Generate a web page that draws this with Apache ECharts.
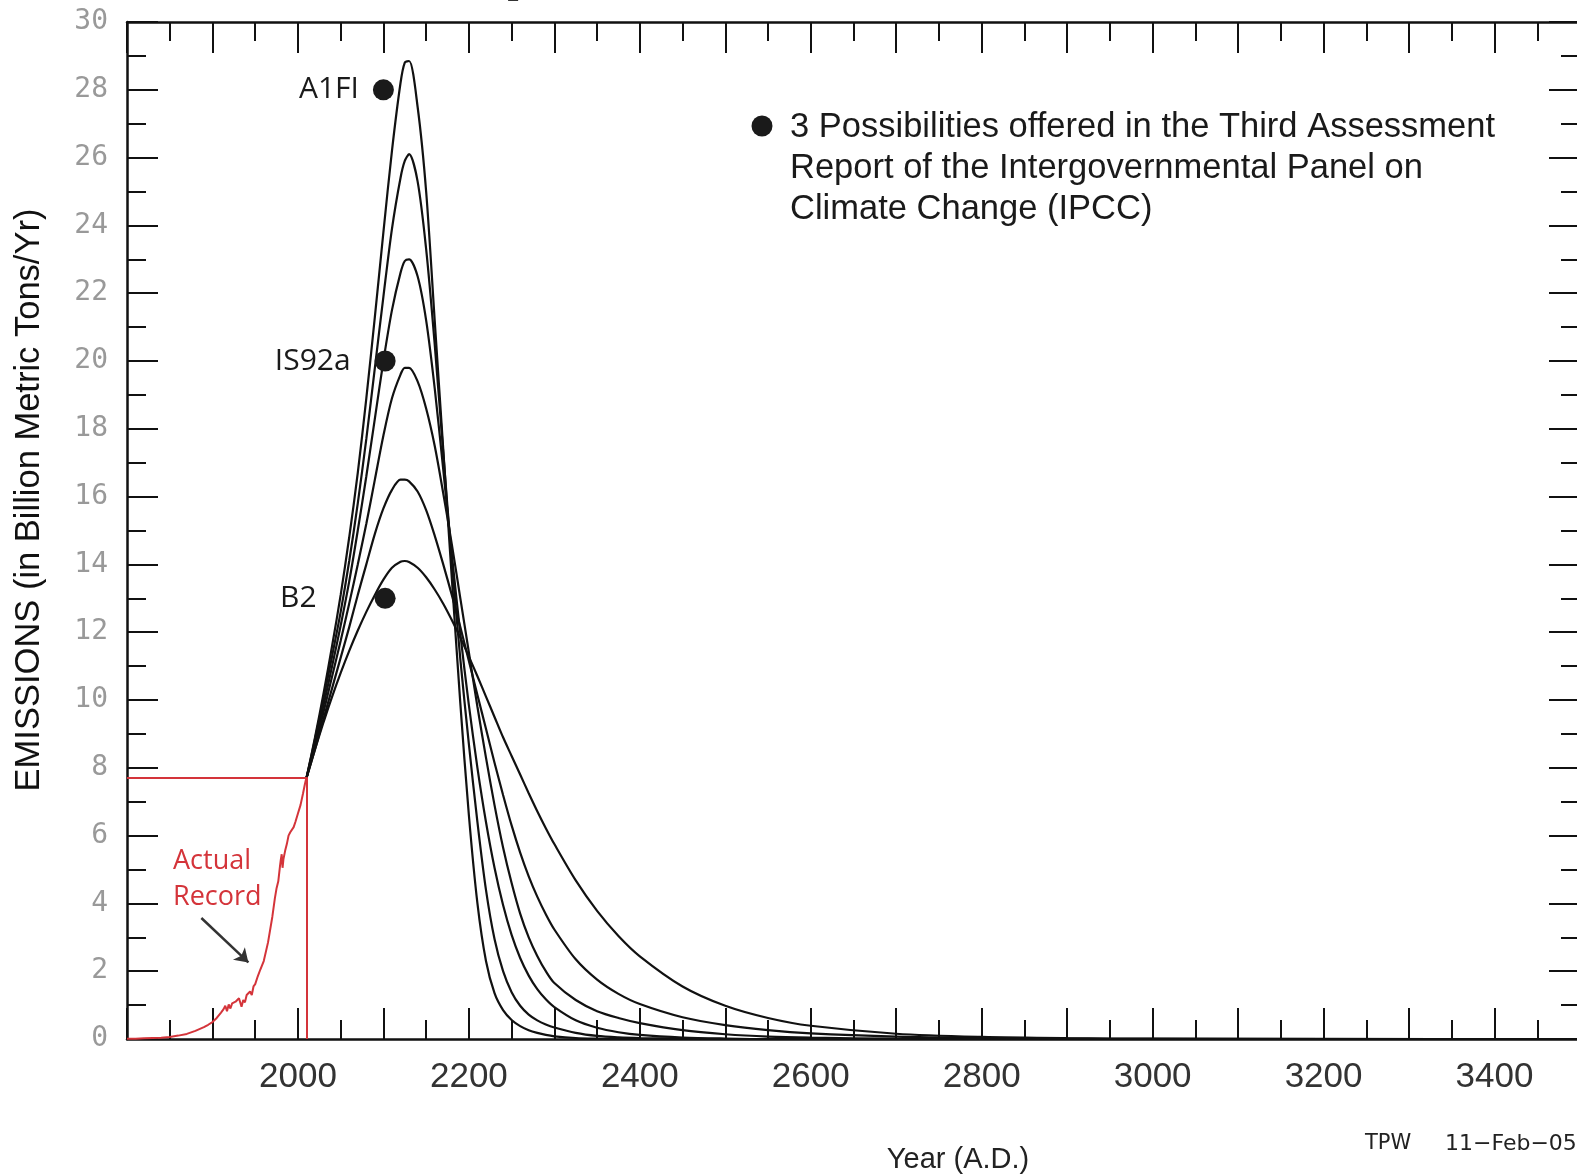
<!DOCTYPE html>
<html>
<head>
<meta charset="utf-8">
<style>
  html, body { margin: 0; padding: 0; background: #ffffff; }
  #chart { width: 1577px; height: 1176px; }
</style>
<script src="https://cdn.jsdelivr.net/npm/echarts@6/dist/echarts.min.js"></script>
</head>
<body>
<div id="chart"></div>
<script>
// ---------- DATA ----------
const scenarioYears = [2010,2020,2030,2040,2050,2060,2070,2080,2090,2100,2110,2120,2125,2130,2140,2150,2160,2170,2180,2190,2200,2210,2220,2230,2240,2250,2260,2270,2280,2290,2300,2325,2350,2375,2400,2450,2500,2550,2600,2700,2800,2900,3000,3200,3500];

const curve1 = [7.7,8.9,10.2,11.6,13.1,14.8,16.7,18.9,21.3,23.8,26.2,28.2,28.8,28.85,27.5,25.0,21.2,17.4,13.6,9.9,6.6,4.0,2.3,1.35,0.85,0.56,0.38,0.26,0.18,0.12,0.08,0.03,0.01,0,0,0,0,0,0,0,0,0,0,0,0];
const curve2 = [7.7,8.85,10.05,11.3,12.6,14.1,15.8,17.7,19.8,21.9,23.9,25.4,25.9,26.1,25.3,23.3,20.5,17.3,14.1,11.2,8.7,6.4,4.4,2.95,2.0,1.38,0.98,0.72,0.55,0.43,0.34,0.18,0.09,0.05,0.03,0.01,0,0,0,0,0,0,0,0,0];
const curve3 = [7.7,8.75,9.85,11.0,12.2,13.5,15.0,16.6,18.3,20.0,21.5,22.6,22.95,23.0,22.5,21.2,19.2,16.8,14.3,11.95,9.85,8.0,6.4,5.05,3.95,3.07,2.39,1.87,1.47,1.17,0.94,0.55,0.33,0.2,0.12,0.045,0.015,0,0,0,0,0,0,0,0];
const curve4 = [7.7,8.65,9.65,10.7,11.75,12.85,14.0,15.2,16.5,17.8,18.9,19.6,19.8,19.8,19.4,18.6,17.5,16.1,14.6,13.0,11.4,9.8,8.3,6.9,5.65,4.6,3.7,3.0,2.45,2.0,1.65,1.15,0.82,0.62,0.47,0.26,0.14,0.07,0.04,0.01,0,0,0,0,0];
const curve5 = [7.7,8.55,9.45,10.35,11.25,12.15,13.1,14.0,14.9,15.65,16.2,16.5,16.5,16.45,16.15,15.6,14.85,14.0,13.1,12.15,11.15,10.15,9.15,8.15,7.2,6.3,5.5,4.8,4.2,3.68,3.23,2.35,1.75,1.33,1.03,0.64,0.41,0.26,0.165,0.07,0.03,0.012,0.005,0,0];
const curve6 = [7.7,8.55,9.35,10.1,10.8,11.45,12.05,12.6,13.1,13.55,13.9,14.08,14.1,14.07,13.9,13.62,13.26,12.84,12.36,11.84,11.28,10.7,10.1,9.5,8.9,8.35,7.8,7.25,6.72,6.22,5.75,4.68,3.78,3.04,2.44,1.55,0.98,0.62,0.39,0.155,0.062,0.025,0.01,0.002,0];

const recordYears  = [1800,1810,1820,1830,1840,1850,1860,1870,1880,1890,1895,1900,1905,1910,1913,1915,1917,1919,1921,1923,1925,1927,1929,1931,1934,1936,1938,1940,1942,1944,1946,1948,1950,1953,1956,1960,1965,1970,1973,1975,1977,1979,1980,1981,1982,1983,1985,1987,1989,1991,1993,1995,1997,2000,2003,2006,2008,2010];
const recordValues = [0.01,0.01,0.02,0.03,0.04,0.06,0.10,0.15,0.24,0.35,0.42,0.50,0.62,0.78,0.88,0.98,0.82,1.02,0.90,1.05,1.00,1.10,1.05,1.20,0.95,1.15,1.08,1.30,1.25,1.40,1.30,1.55,1.62,1.85,2.05,2.30,2.85,3.60,4.15,4.45,4.65,5.10,5.30,5.45,5.05,5.30,5.55,5.75,6.00,6.10,6.15,6.25,6.40,6.65,6.90,7.25,7.50,7.72];

const recordEndYear = 2010;
const recordEndValue = 7.72;

const ipccNames  = ['A1FI', 'IS92a', 'B2'];
const ipccYears  = [2100, 2102, 2102];
const ipccValues = [28, 20, 13];

const arrowFrom = [1887, 3.57];
const arrowTo   = [1942, 2.26];

const xTickLabels = [2000, 2200, 2400, 2600, 2800, 3000, 3200, 3400];

// ---------- BUILD ----------
function pairs(xs, ys) { return xs.map((x, i) => [x, ys[i]]); }

const curves = [curve1, curve2, curve3, curve4, curve5, curve6];
const ipccLabelGap = [14, 24, 58];

const axisColor = '#111';
const tickStyle = { color: axisColor, width: 2 };

function xAxisCfg(pos, showLabel) {
  return {
    type: 'value', position: pos, min: 1800, max: 3500, interval: 100,
    axisLine: { show: true, onZero: false, lineStyle: { color: axisColor, width: 2.5 } },
    axisTick: { show: true, inside: true, length: 31, lineStyle: tickStyle },
    minorTick: { show: true, splitNumber: 2, length: 19, lineStyle: tickStyle },
    splitLine: { show: false }, minorSplitLine: { show: false },
    axisLabel: {
      show: showLabel, margin: 21, fontSize: 35, color: '#333', fontFamily: 'Liberation Sans',
      formatter: v => xTickLabels.indexOf(v) >= 0 ? String(v) : ''
    }
  };
}
function yAxisCfg(pos, showLabel) {
  return {
    type: 'value', position: pos, min: 0, max: 30, interval: 2,
    axisLine: { show: true, onZero: false, lineStyle: { color: axisColor, width: 2.5 } },
    axisTick: { show: true, inside: true, length: 31, lineStyle: tickStyle },
    minorTick: { show: true, splitNumber: 2, length: 19, lineStyle: tickStyle },
    splitLine: { show: false }, minorSplitLine: { show: false },
    axisLabel: { show: showLabel, margin: 19, fontSize: 28, color: '#999999', fontFamily: 'DejaVu Sans Mono' }
  };
}

const series = curves.map((c, i) => ({
  type: 'line', name: 'scenario' + (i + 1), xAxisIndex: 0, yAxisIndex: 0,
  data: pairs(scenarioYears, c), smooth: 0.3, showSymbol: false, silent: true,
  lineStyle: { color: '#111', width: 2.2 }, z: 3
}));

series.push({
  type: 'line', name: 'Actual Record', data: pairs(recordYears, recordValues),
  showSymbol: false, silent: true, smooth: false,
  lineStyle: { color: '#d4343a', width: 2 }, z: 4,
  markLine: {
    silent: true, symbol: 'none', label: { show: false },
    lineStyle: { color: '#d4343a', width: 2, type: 'solid' },
    data: [
      [{ coord: [1800, recordEndValue] }, { coord: [recordEndYear, recordEndValue] }],
      [{ coord: [recordEndYear, 0] }, { coord: [recordEndYear, recordEndValue] }]
    ]
  }
});

series.push({
  type: 'scatter', name: 'IPCC', symbol: 'circle', symbolSize: 21, z: 6,
  itemStyle: { color: '#1a1a1a', opacity: 1 },
  data: ipccNames.map((n, i) => ({
    name: n, value: [ipccYears[i], ipccValues[i]],
    label: { show: true, position: 'left', distance: ipccLabelGap[i], formatter: '{b}',
             fontFamily: 'Open Sans', fontSize: 30, color: '#1a1a1a' }
  }))
});

series.push({
  type: 'lines', coordinateSystem: 'cartesian2d', silent: true, z: 5,
  symbol: ['none', 'arrow'], symbolSize: 13,
  lineStyle: { color: '#333', width: 2.5, opacity: 1 },
  data: [{ coords: [arrowFrom, arrowTo] }]
});

const option = {
  animation: false,
  backgroundColor: '#ffffff',
  grid: { left: 127, top: 22, right: -3, bottom: 137, containLabel: false, outerBoundsMode: 'none' },
  xAxis: [xAxisCfg('bottom', true), xAxisCfg('top', false)],
  yAxis: [yAxisCfg('left', true), yAxisCfg('right', false)],
  series: series,
  graphic: [
    { type: 'text', x: 29, y: 500, rotation: Math.PI / 2,
      style: { text: 'EMISSIONS (in Billion Metric Tons/Yr)', fontSize: 34.5, fontFamily: 'Liberation Sans',
               fill: '#111', align: 'center', verticalAlign: 'middle' } },
    { type: 'text', x: 958, y: 1160,
      style: { text: 'Year (A.D.)', fontSize: 29, fontFamily: 'Liberation Sans',
               fill: '#222', align: 'center', verticalAlign: 'middle' } },
    { type: 'text', x: 1365, y: 1144,
      style: { text: 'TPW', fontSize: 21, fontFamily: 'DejaVu Sans', fill: '#222', align: 'left', verticalAlign: 'middle' } },
    { type: 'text', x: 1445, y: 1144,
      style: { text: '11\u2212Feb\u221205', fontSize: 22, fontFamily: 'DejaVu Sans', fill: '#222', align: 'left', verticalAlign: 'middle' } },
    { type: 'circle', shape: { cx: 762, cy: 126, r: 10.5 }, style: { fill: '#1a1a1a' } },
    { type: 'text', x: 790, y: 106.5,
      style: { text: '3 Possibilities offered in the Third Assessment\nReport of the Intergovernmental Panel on\nClimate Change (IPCC)',
               fontSize: 34.5, lineHeight: 41, fontFamily: 'Liberation Sans', fill: '#1a1a1a', align: 'left', verticalAlign: 'top' } },
    { type: 'text', x: 173, y: 843,
      style: { text: 'Actual\nRecord', fontSize: 27, lineHeight: 36, fontFamily: 'Open Sans',
               fill: '#d4343a', align: 'left', verticalAlign: 'top' } },
    { type: 'text', x: 513, y: -5,
      style: { text: '2', fontSize: 22, fontFamily: 'Liberation Sans', fill: '#333', align: 'center', verticalAlign: 'middle' } }
  ]
};

const chart = echarts.init(document.getElementById('chart'), null, { renderer: 'canvas' });
chart.setOption(option);
</script>
</body>
</html>
